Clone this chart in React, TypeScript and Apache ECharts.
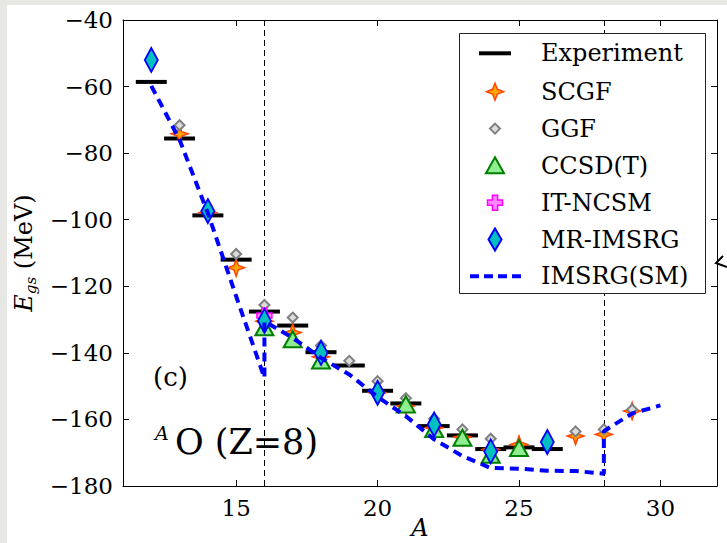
import React, { useEffect, useRef } from "react";
import * as echarts from "echarts";

// ---- data ----
const EXP_A = [12, 13, 14, 15, 16, 17, 18, 19, 20, 21, 22, 23, 24, 25, 26];
const EXP_E = [-58.6, -75.6, -98.7, -112.0, -127.6, -131.8, -139.8, -143.8, -151.4, -155.2, -162.0, -164.8, -168.9, -168.4, -168.9];

const SCGF_A = [13, 14, 15, 16, 17, 18, 20, 21, 22, 23, 24, 25, 27, 28, 29];
const SCGF_E = [-74.2, -97.8, -114.4, -130.5, -133.9, -141.2, -152.0, -156.0, -162.5, -165.3, -169.0, -167.5, -165.0, -164.5, -157.5];

const GGF_A = [13, 15, 16, 17, 18, 19, 20, 21, 22, 23, 24, 27, 28, 29];
const GGF_E = [-71.6, -110.3, -125.6, -129.4, -137.8, -142.4, -148.5, -153.6, -159.8, -163.0, -165.8, -163.6, -163.0, -157.0];

const CCSD_A = [16, 17, 18, 21, 22, 23, 24, 25];
const CCSD_E = [-132.3, -135.9, -142.3, -155.5, -162.9, -165.5, -170.6, -168.6];

const NCSM_A = [16];
const NCSM_E = [-128.8];

const MR_A = [12, 14, 16, 18, 20, 22, 24, 26];
const MR_E = [-52.0, -97.4, -130.4, -140.0, -152.0, -161.5, -169.6, -166.8];

const SM_A = [12, 13, 14, 15, 16, 16, 17, 18, 19, 20, 21, 22, 23, 24, 25, 26, 27, 28, 28, 29, 30];
const SM_E = [-59.8, -76.0, -98.0, -123.0, -147.5, -130.5, -135.5, -141.5, -146.5, -153.2, -159.0, -166.0, -171.0, -174.6, -174.8, -175.4, -175.5, -176.3, -163.5, -158.2, -155.8];

const SHELL_LINES = [16, 28];
const X_TICKS = [15, 20, 25, 30];
const LEGEND_NAMES = ["Experiment", "SCGF", "GGF", "CCSD(T)", "IT-NCSM", "MR-IMSRG", "IMSRG(SM)"];

const zip = (a: number[], b: number[]) => a.map((x, i) => [x, b[i]]);

const SERIF = "DejaVu Serif";
const STAR = "path://M0,-10 L2.6,-2.6 L10,0 L2.6,2.6 L0,10 L-2.6,2.6 L-10,0 L-2.6,-2.6 Z";
const PLUS = "path://M-1,-3 H1 V-1 H3 V1 H1 V3 H-1 V1 H-3 V-1 H-1 Z";

function legendGraphic() {
  const x0 = 495;
  const tx = 541;
  const ys = [53.3, 91.7, 128.6, 165.8, 202.7, 239.5, 276.2];
  const children: any[] = [
    {
      type: "rect",
      shape: { x: 459.5, y: 33.5, width: 246, height: 260 },
      style: { fill: "#fff", stroke: "#222", lineWidth: 1 },
      z: 100,
    },
  ];
  const star = (cx: number, cy: number, r: number, i: number) => [
    [cx, cy - r], [cx + i, cy - i], [cx + r, cy], [cx + i, cy + i],
    [cx, cy + r], [cx - i, cy + i], [cx - r, cy], [cx - i, cy - i],
  ];
  const plus = (cx: number, cy: number, a: number, w: number) => [
    [cx - w, cy - a], [cx + w, cy - a], [cx + w, cy - w], [cx + a, cy - w],
    [cx + a, cy + w], [cx + w, cy + w], [cx + w, cy + a], [cx - w, cy + a],
    [cx - w, cy + w], [cx - a, cy + w], [cx - a, cy - w], [cx - w, cy - w],
  ];
  children.push({ type: "rect", shape: { x: 479, y: ys[0] - 2, width: 32, height: 4 }, style: { fill: "#000" }, z: 101 });
  children.push({ type: "polygon", shape: { points: star(x0, ys[1], 8.5, 2.4) }, style: { fill: "#ffa500", stroke: "#ff4500", lineWidth: 1.5 }, z: 101 });
  children.push({ type: "polygon", shape: { points: [[x0, ys[2] - 5], [x0 + 5, ys[2]], [x0, ys[2] + 5], [x0 - 5, ys[2]]] }, style: { fill: "#dcdcdc", stroke: "#7f7f7f", lineWidth: 2 }, z: 101 });
  children.push({ type: "polygon", shape: { points: [[x0, ys[3] - 8.5], [x0 + 9, ys[3] + 7.5], [x0 - 9, ys[3] + 7.5]] }, style: { fill: "#90ee90", stroke: "#008000", lineWidth: 2 }, z: 101 });
  children.push({ type: "polygon", shape: { points: plus(x0, ys[4], 7.5, 2.6) }, style: { fill: "#ff88ff", stroke: "#ff00ff", lineWidth: 1.5 }, z: 101 });
  children.push({ type: "polygon", shape: { points: [[x0, ys[5] - 11], [x0 + 6.5, ys[5]], [x0, ys[5] + 11], [x0 - 6.5, ys[5]]] }, style: { fill: "#00bfbf", stroke: "#0000ff", lineWidth: 2 }, z: 101 });
  children.push({ type: "line", shape: { x1: 470, y1: ys[6], x2: 521, y2: ys[6] }, style: { stroke: "#0000ff", lineWidth: 4, lineDash: [9, 5] }, z: 101 });
  LEGEND_NAMES.forEach((n, i) => {
    children.push({
      type: "text",
      x: tx,
      y: ys[i],
      style: { text: n, fontFamily: SERIF, fontSize: 24, fill: "#000", verticalAlign: "middle", align: "left" },
      z: 101,
    });
  });
  return children;
}

export default function App() {
  const ref = useRef<HTMLDivElement>(null);
  useEffect(() => {
    if (!ref.current) return;
    const chart = echarts.init(ref.current, null, { renderer: "svg" });
    const axisCommon = {
      type: "value" as const,
      axisLine: { show: true, onZero: false, lineStyle: { color: "#000", width: 1 } },
      splitLine: { show: false },
    };
    const option: any = {
      animation: false,
      backgroundColor: "#fff",
      grid: { left: 123, right: 10, top: 20, bottom: 57, containLabel: false, outerBoundsMode: "none" },
      xAxis: [
        {
          ...axisCommon,
          min: 11,
          max: 32,
          position: "bottom",
          axisTick: { show: true, inside: true, length: 6, customValues: X_TICKS, lineStyle: { color: "#000" } },
          axisLabel: { customValues: X_TICKS, fontFamily: SERIF, fontSize: 23, color: "#000", margin: 10 },
          name: "A",
          nameLocation: "middle",
          nameGap: 30,
          nameMoveOverlap: false,
          nameTextStyle: { fontFamily: SERIF, fontStyle: "italic", fontSize: 24, color: "#000", lineHeight: 24 },
        },
        {
          ...axisCommon,
          min: 11,
          max: 32,
          position: "top",
          axisTick: { show: true, inside: true, length: 6, customValues: X_TICKS, lineStyle: { color: "#000" } },
          axisLabel: { show: false },
        },
      ],
      yAxis: [
        {
          ...axisCommon,
          min: -180,
          max: -40,
          interval: 20,
          position: "left",
          axisTick: { show: true, inside: true, length: 6, lineStyle: { color: "#000" } },
          axisLabel: {
            fontFamily: SERIF,
            fontSize: 23,
            color: "#000",
            margin: 10,
            formatter: (v: number) => (v < 0 ? "\u2212" + Math.abs(v) : String(v)),
          },
          name: "{e|E}{s|gs}{m| (MeV)}",
          nameLocation: "middle",
          nameGap: 84,
          nameRotate: 90,
          nameTextStyle: {
            rich: {
              e: { fontFamily: SERIF, fontStyle: "italic", fontSize: 24, lineHeight: 30, color: "#000" },
              s: { fontFamily: SERIF, fontStyle: "italic", fontSize: 15, lineHeight: 15, verticalAlign: "bottom", color: "#000" },
              m: { fontFamily: SERIF, fontSize: 24, lineHeight: 30, color: "#000" },
            },
          },
        },
        {
          ...axisCommon,
          min: -180,
          max: -40,
          interval: 20,
          position: "right",
          axisTick: { show: true, inside: true, length: 6, lineStyle: { color: "#000" } },
          axisLabel: { show: false },
        },
      ],
      series: [
        {
          name: "Experiment",
          type: "scatter",
          data: zip(EXP_A, EXP_E),
          symbol: "rect",
          symbolSize: [31, 4],
          itemStyle: { color: "#000", opacity: 1 },
          z: 2,
          markLine: {
            silent: true,
            symbol: "none",
            label: { show: false },
            lineStyle: { color: "#000", width: 1, type: [6, 4], opacity: 1 },
            data: SHELL_LINES.map((x) => ({ xAxis: x })),
            z: 1,
          },
        },
        {
          name: "SCGF",
          type: "scatter",
          data: zip(SCGF_A, SCGF_E),
          symbol: STAR,
          symbolSize: 17,
          itemStyle: { color: "#ffa500", borderColor: "#ff4500", borderWidth: 1.5, opacity: 1 },
          z: 3,
        },
        {
          name: "GGF",
          type: "scatter",
          data: zip(GGF_A, GGF_E),
          symbol: "diamond",
          symbolSize: 10,
          itemStyle: { color: "#dcdcdc", borderColor: "#7f7f7f", borderWidth: 2, opacity: 1 },
          z: 4,
        },
        {
          name: "CCSD(T)",
          type: "scatter",
          data: zip(CCSD_A, CCSD_E),
          symbol: "triangle",
          symbolSize: [18, 16],
          itemStyle: { color: "#90ee90", borderColor: "#008000", borderWidth: 2, opacity: 1 },
          z: 5,
        },
        {
          name: "IT-NCSM",
          type: "scatter",
          data: zip(NCSM_A, NCSM_E),
          symbol: PLUS,
          symbolSize: 15,
          itemStyle: { color: "#ff88ff", borderColor: "#ff00ff", borderWidth: 1.5, opacity: 1 },
          z: 6,
        },
        {
          name: "MR-IMSRG",
          type: "scatter",
          data: zip(MR_A, MR_E),
          symbol: "diamond",
          symbolSize: [13, 24],
          itemStyle: { color: "#00bfbf", borderColor: "#0000ff", borderWidth: 2, opacity: 1 },
          z: 7,
        },
        {
          name: "IMSRG(SM)",
          type: "line",
          data: zip(SM_A, SM_E),
          showSymbol: false,
          symbol: "none",
          lineStyle: { color: "#0000ff", width: 4, type: [9, 6] },
          z: 8,
        },
      ],
      graphic: [
        { type: "rect", shape: { x: 0, y: 0, width: 7, height: 543 }, style: { fill: "#e7e7e3" }, z: 0 },
        { type: "rect", shape: { x: 0, y: 0, width: 727, height: 5 }, style: { fill: "#e7e7e3" }, z: 0 },
        {
          type: "text",
          x: 153,
          y: 377,
          style: { text: "(c)", fontFamily: SERIF, fontSize: 26, fill: "#000", verticalAlign: "middle" },
          z: 50,
        },
        {
          type: "text",
          x: 155,
          y: 433,
          style: { text: "A", fontFamily: SERIF, fontStyle: "italic", fontSize: 19, fill: "#000", verticalAlign: "middle" },
          z: 50,
        },
        {
          type: "text",
          x: 175,
          y: 442,
          style: { text: "O (Z=8)", fontFamily: SERIF, fontSize: 35, fill: "#000", verticalAlign: "middle" },
          z: 50,
        },
        {
          type: "polyline",
          shape: { points: [[723, 256], [716, 263], [727, 267]] },
          style: { stroke: "#000", lineWidth: 2, fill: null },
          z: 50,
        },
        ...legendGraphic(),
      ],
    };
    chart.setOption(option);
    return () => chart.dispose();
  }, []);
  return (
    <div
      ref={ref}
      style={{ position: "fixed", left: 0, top: 0, width: 727, height: 543, background: "#fff" }}
    />
  );
}
